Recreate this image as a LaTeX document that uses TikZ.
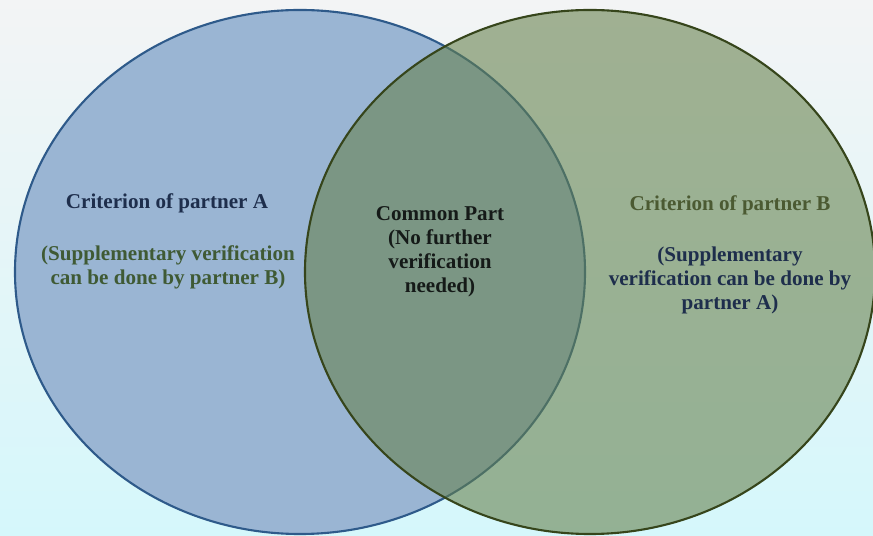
\documentclass[tikz,border=0pt]{standalone}
\usepackage{fontspec}
\setmainfont{Liberation Serif}
\usetikzlibrary{shapes.geometric}

\definecolor{bgtop}{HTML}{F3F4F5}
\definecolor{bgbottom}{HTML}{D5F7FB}
\definecolor{setAfill}{HTML}{9AB5D3}
\definecolor{setAline}{HTML}{2E5A8A}
\definecolor{setBfill}{RGB}{101,128,75}
\definecolor{setBline}{HTML}{36451B}
\definecolor{navytext}{HTML}{1E2E4C}
\definecolor{greentext}{HTML}{3F5A34}
\definecolor{olivetext}{HTML}{4B5A32}
\definecolor{commontext}{HTML}{151A18}

\begin{document}
\begin{tikzpicture}[
    x=0.03cm, y=0.03cm,
    venn/.style={draw, ellipse, minimum width=17.1cm, minimum height=15.72cm, inner sep=0pt, line width=1.8pt},
    venntext/.style={align=center, font=\bfseries\fontsize{18}{20.5}\selectfont}
]

    % ================= BACKGROUND =================
    \shade[top color=bgtop, bottom color=bgbottom] (0,0) rectangle (873,535);
    \useasboundingbox (0,0) rectangle (873,535);

    % ================= SETS =================
    \node[venn, draw=setAline, fill=setAfill] (setA) at (300,263) {};
    \node[venn, draw=setBline, fill=setBfill, fill opacity=0.58] (setB) at (590,263) {};

    % ================= LABELS =================
    \node[venntext, text=navytext] (critA) at (167,332) {Criterion of partner A};
    \node[venntext, text=greentext] (suppA) at (168,268) {(Supplementary verification\\can be done by partner B)};

    \node[venntext, text=commontext] (common) at (440,283) {Common Part\\(No further\\verification\\needed)};

    \node[venntext, text=olivetext] (critB) at (730,330) {Criterion of partner B};
    \node[venntext, text=navytext] (suppB) at (730,255) {(Supplementary\\verification can be done by\\partner A)};

\end{tikzpicture}
\end{document}
